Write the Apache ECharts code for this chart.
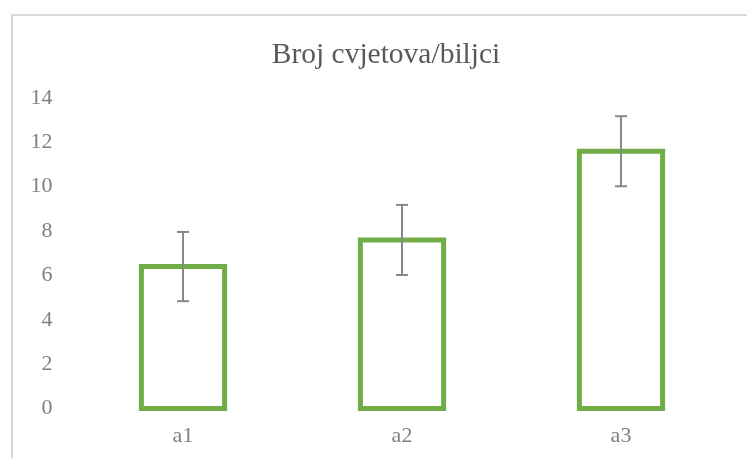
<!DOCTYPE html>
<html>
<head>
<meta charset="utf-8">
<script src="https://cdn.jsdelivr.net/npm/echarts@6/dist/echarts.min.js"></script>
<style>
html,body{margin:0;padding:0;background:#fff;}
#chart{width:747px;height:458px;}
</style>
</head>
<body>
<div id="chart"></div>
<script>
var categories = ['a1', 'a2', 'a3'];
var values = [6.4, 7.6, 11.6];
var errors = [1.56, 1.58, 1.58];
var yTicks = { min: 0, max: 14, interval: 2 };
var titleText = 'Broj cvjetova/biljci';

var FONT = '"Liberation Serif", "Times New Roman", Times, serif';
var chart = echarts.init(document.getElementById('chart'), null, { renderer: 'canvas' });
var barData = categories.map(function (c, i) { return [i, values[i]]; });
var errData = categories.map(function (c, i) { return [i, values[i] - errors[i], values[i] + errors[i]]; });

chart.setOption({
  animation: false,
  backgroundColor: '#fff',
  title: {
    text: titleText,
    left: 381,
    top: 35,
    textAlign: 'center',
    textStyle: { fontFamily: FONT, fontSize: 29.5, fontWeight: 'normal', color: '#595959' }
  },
  graphic: [{
    type: 'rect',
    shape: { x: 12, y: 15, width: 800, height: 500 },
    style: { fill: 'none', stroke: '#d9d9d9', lineWidth: 2 },
    silent: true,
    z: -1
  }],
  grid: { left: 73.5, right: 16.5, top: 98, bottom: 49.5, containLabel: false },
  xAxis: {
    type: 'category',
    data: categories,
    axisLine: { show: false },
    axisTick: { show: false },
    axisLabel: { fontFamily: FONT, fontSize: 22, color: '#808080', margin: 17 }
  },
  yAxis: {
    type: 'value',
    min: yTicks.min,
    max: yTicks.max,
    interval: yTicks.interval,
    splitLine: { show: false },
    axisLine: { show: false },
    axisTick: { show: false },
    axisLabel: { fontFamily: FONT, fontSize: 22, color: '#808080', margin: 21 }
  },
  series: [{
    type: 'custom',
    data: barData,
    z: 5,
    renderItem: function (params, api) {
      var x = api.value(0);
      var top = api.coord([x, api.value(1)]);
      var base = api.coord([x, 0]);
      var w = api.size([1, 0])[0] * 0.38;
      return {
        type: 'rect',
        shape: { x: top[0] - w / 2, y: top[1], width: w, height: base[1] - top[1] },
        style: { fill: '#ffffff', stroke: '#70ad47', lineWidth: 5 }
      };
    }
  }, {
    type: 'custom',
    data: errData,
    z: 10,
    renderItem: function (params, api) {
      var x = api.value(0);
      var lo = api.coord([x, api.value(1)]);
      var hi = api.coord([x, api.value(2)]);
      var cw = 6;
      var st = { stroke: '#898989', lineWidth: 2 };
      return {
        type: 'group',
        children: [
          { type: 'line', shape: { x1: lo[0], y1: lo[1], x2: hi[0], y2: hi[1] }, style: st },
          { type: 'line', shape: { x1: lo[0] - cw, y1: lo[1], x2: lo[0] + cw, y2: lo[1] }, style: st },
          { type: 'line', shape: { x1: hi[0] - cw, y1: hi[1], x2: hi[0] + cw, y2: hi[1] }, style: st }
        ]
      };
    }
  }]
});
</script>
</body>
</html>
